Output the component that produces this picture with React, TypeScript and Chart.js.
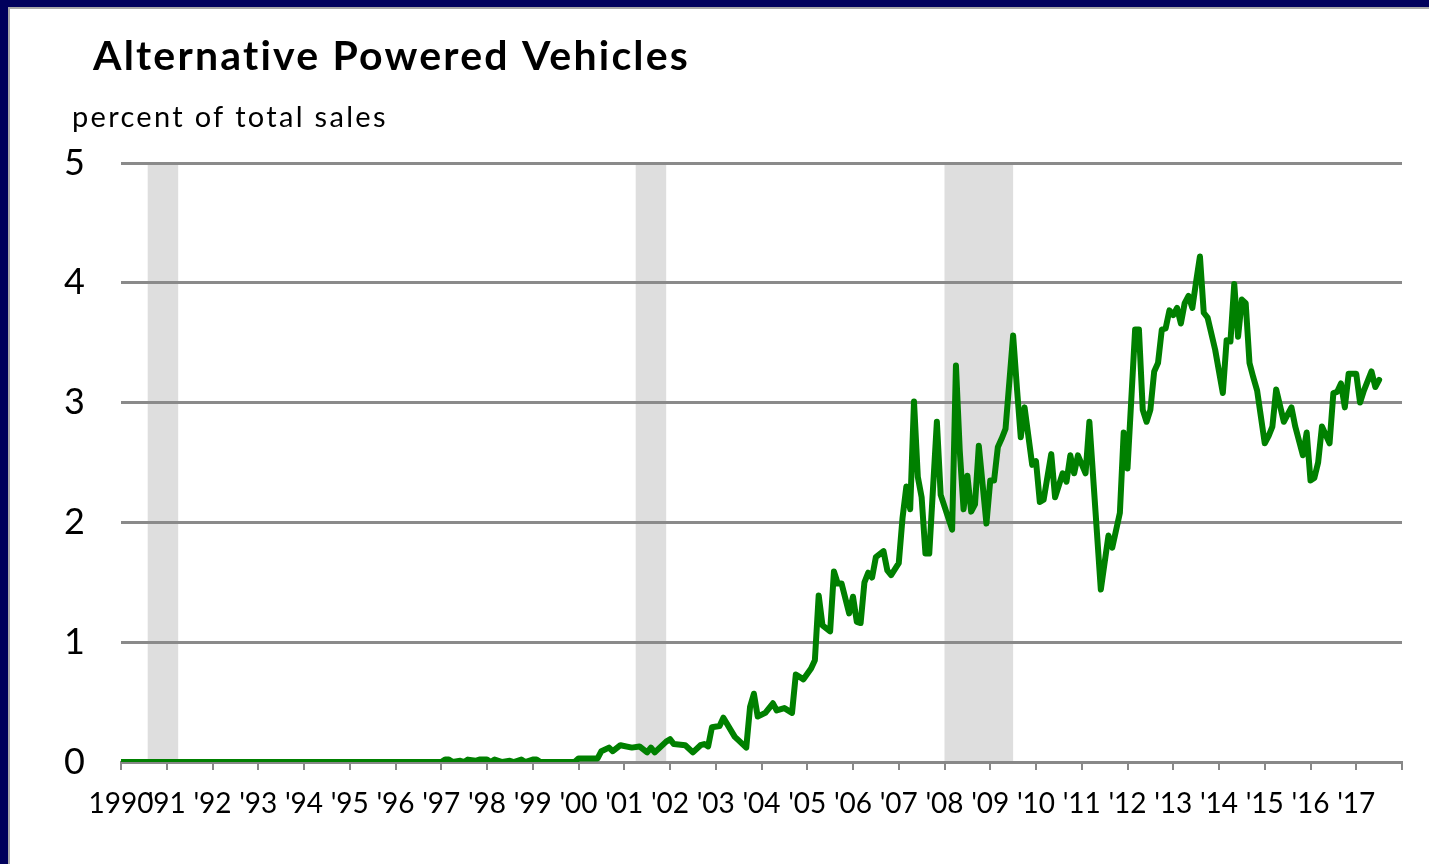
import { useEffect, useRef } from "react";
import { Chart, registerables } from "chart.js";

Chart.register(...registerables);

// Monthly share of alternative powered vehicles in total sales (percent)
const months = [
  "1990-01", "1997-01", "1997-02", "1997-03", "1997-04", "1997-06", "1997-07", "1997-08", "1997-10", "1997-11",
  "1998-01", "1998-02", "1998-03", "1998-05", "1998-07", "1998-08", "1998-10", "1998-11",
  "1999-01", "1999-02", "1999-03", "1999-12",
  "2000-01", "2000-06", "2000-07", "2000-09", "2000-10", "2000-12",
  "2001-03", "2001-05", "2001-07", "2001-08", "2001-09", "2001-12",
  "2002-01", "2002-02", "2002-05", "2002-07", "2002-09", "2002-10", "2002-11", "2002-12",
  "2003-02", "2003-03", "2003-06", "2003-07", "2003-09", "2003-10", "2003-11", "2003-12",
  "2004-02", "2004-04", "2004-05", "2004-07", "2004-09", "2004-10", "2004-12",
  "2005-02", "2005-03", "2005-04", "2005-05", "2005-07", "2005-08", "2005-09", "2005-10", "2005-12",
  "2006-01", "2006-02", "2006-03", "2006-04", "2006-05", "2006-06", "2006-07", "2006-09", "2006-10", "2006-11",
  "2007-01", "2007-02", "2007-03", "2007-04", "2007-05", "2007-06", "2007-07", "2007-08", "2007-09", "2007-11", "2007-12",
  "2008-03", "2008-04", "2008-05", "2008-06", "2008-07", "2008-08", "2008-09", "2008-10", "2008-12",
  "2009-01", "2009-02", "2009-03", "2009-04", "2009-05", "2009-07", "2009-08", "2009-09", "2009-10", "2009-12",
  "2010-01", "2010-02", "2010-03", "2010-05", "2010-06", "2010-08", "2010-09", "2010-10", "2010-11", "2010-12",
  "2011-02", "2011-03", "2011-06", "2011-08", "2011-09", "2011-11", "2011-12",
  "2012-01", "2012-03", "2012-04", "2012-05", "2012-06", "2012-07", "2012-08", "2012-09", "2012-10", "2012-11", "2012-12",
  "2013-01", "2013-02", "2013-03", "2013-04", "2013-05", "2013-06", "2013-07", "2013-08", "2013-09", "2013-10", "2013-12",
  "2014-02", "2014-03", "2014-04", "2014-05", "2014-06", "2014-07", "2014-08", "2014-09", "2014-10", "2014-11",
  "2015-01", "2015-02", "2015-03", "2015-04", "2015-06", "2015-08", "2015-09", "2015-11", "2015-12",
  "2016-01", "2016-02", "2016-03", "2016-04", "2016-06", "2016-07", "2016-08", "2016-09", "2016-10", "2016-11",
  "2017-01", "2017-02", "2017-03", "2017-05", "2017-06", "2017-07",
];

const shares = [
  0, 0, 0.02, 0.02, 0, 0.01, 0, 0.02, 0.01, 0.02,
  0.02, 0, 0.02, 0, 0.01, 0, 0.02, 0,
  0.02, 0.02, 0, 0,
  0.03, 0.03, 0.09, 0.12, 0.09, 0.14,
  0.12, 0.13, 0.08, 0.12, 0.08, 0.17,
  0.19, 0.15, 0.14, 0.08, 0.14, 0.15, 0.13, 0.29,
  0.30, 0.37, 0.21, 0.18, 0.12, 0.46, 0.57, 0.38,
  0.41, 0.49, 0.43, 0.45, 0.41, 0.73, 0.69,
  0.78, 0.85, 1.39, 1.14, 1.09, 1.59, 1.49, 1.49, 1.24,
  1.38, 1.17, 1.16, 1.50, 1.58, 1.54, 1.71, 1.76, 1.60, 1.56,
  1.66, 2.04, 2.30, 2.11, 3.01, 2.38, 2.21, 1.74, 1.74, 2.84, 2.23,
  1.94, 3.31, 2.60, 2.11, 2.39, 2.09, 2.15, 2.64, 1.99,
  2.35, 2.35, 2.63, 2.70, 2.78, 3.56, 3.12, 2.71, 2.96, 2.48,
  2.51, 2.17, 2.19, 2.57, 2.21, 2.41, 2.34, 2.56, 2.41, 2.56,
  2.41, 2.84, 1.44, 1.89, 1.79, 2.08, 2.75,
  2.45, 3.61, 3.61, 2.94, 2.84, 2.94, 3.26, 3.33, 3.61, 3.62, 3.77,
  3.73, 3.79, 3.66, 3.83, 3.89, 3.79, 4.01, 4.22, 3.75, 3.71, 3.44,
  3.08, 3.52, 3.51, 3.99, 3.55, 3.86, 3.83, 3.33, 3.21, 3.10,
  2.66, 2.72, 2.80, 3.11, 2.84, 2.96, 2.80, 2.56, 2.75,
  2.35, 2.37, 2.50, 2.80, 2.66, 3.08, 3.09, 3.16, 2.96, 3.24,
  3.24, 3.00, 3.10, 3.26, 3.13, 3.19,
];

// Recessions (first and last month, inclusive)
const recessionStarts = ["1990-08", "2001-04", "2008-01"];
const recessionEnds = ["1991-03", "2001-11", "2009-06"];

const yearLabels = [
  "1990", "'91", "'92", "'93", "'94", "'95", "'96", "'97", "'98", "'99",
  "'00", "'01", "'02", "'03", "'04", "'05", "'06", "'07", "'08", "'09",
  "'10", "'11", "'12", "'13", "'14", "'15", "'16", "'17",
];

const yMin = 0;
const yMax = 5;

const FIRST_YEAR = 1990;
const monthIndex = (m: string) => {
  const [y, mo] = m.split("-").map(Number);
  return (y - FIRST_YEAR) * 12 + (mo - 1);
};

const FONT = "Lato, 'Open Sans', sans-serif";

const recessionPlugin = {
  id: "recessionShading",
  beforeDraw(chart: any) {
    const { ctx, scales } = chart;
    const x = scales.x;
    const y = scales.y;
    ctx.save();
    ctx.fillStyle = "#ffffff";
    ctx.fillRect(0, 0, chart.width, chart.height);
    ctx.fillStyle = "#dedede";
    const top = y.getPixelForValue(yMax);
    const bottom = y.getPixelForValue(yMin);
    recessionStarts.forEach((s, i) => {
      const x0 = x.getPixelForValue(monthIndex(s));
      const x1 = x.getPixelForValue(monthIndex(recessionEnds[i]) + 1);
      ctx.fillRect(x0, top, x1 - x0, bottom - top);
    });
    ctx.restore();
  },
};

const headingPlugin = {
  id: "headings",
  afterDraw(chart: any) {
    const { ctx } = chart;
    ctx.save();
    ctx.fillStyle = "#000000";
    ctx.textBaseline = "alphabetic";
    ctx.textAlign = "left";
    ctx.font = `bold 41px ${FONT}`;
    (ctx as any).letterSpacing = "2.2px";
    ctx.fillText("Alternative Powered Vehicles", 93, 70);
    ctx.font = `29px ${FONT}`;
    (ctx as any).letterSpacing = "2.3px";
    ctx.fillText("percent of total sales", 72, 127);
    ctx.restore();
  },
};

export default function App() {
  const canvasRef = useRef<HTMLCanvasElement | null>(null);

  useEffect(() => {
    document.body.style.margin = "0";
    const canvas = canvasRef.current;
    if (!canvas) return;
    const points = months.map((m, i) => ({ x: monthIndex(m), y: shares[i] }));
    const lastTick = yearLabels.length * 12;

    const chart = new Chart(canvas, {
      type: "line",
      data: {
        datasets: [
          {
            data: points,
            borderColor: "#008000",
            borderWidth: 6,
            pointRadius: 0,
            tension: 0,
            borderJoinStyle: "round",
            borderCapStyle: "round",
            fill: false,
          },
        ],
      },
      options: {
        responsive: false,
        animation: false,
        devicePixelRatio: 1,
        layout: { padding: { left: 0, top: 163, right: 27, bottom: 0 } },
        plugins: {
          legend: { display: false },
          title: { display: false },
          tooltip: { enabled: false },
        },
        scales: {
          x: {
            type: "linear",
            min: 0,
            max: lastTick,
            afterFit: (scale: any) => {
              scale.height = 102;
            },
            afterBuildTicks: (scale: any) => {
              const ticks = [];
              for (let v = 0; v <= lastTick; v += 12) ticks.push({ value: v });
              scale.ticks = ticks;
            },
            grid: {
              drawOnChartArea: false,
              drawTicks: true,
              tickLength: 8,
              color: "#888888",
              lineWidth: 2,
            },
            border: { display: true, color: "#888888", width: 3 },
            ticks: {
              autoSkip: false,
              maxRotation: 0,
              padding: 17,
              color: "#000000",
              font: { family: FONT, size: 28 },
              callback: (value: any) => {
                const i = Math.round(Number(value) / 12);
                return yearLabels[i] ?? "";
              },
            },
          },
          y: {
            min: yMin,
            max: yMax,
            afterFit: (scale: any) => {
              scale.width = 121;
            },
            grid: {
              drawTicks: false,
              color: "#8a8a8a",
              lineWidth: 3,
            },
            border: { display: false },
            ticks: {
              stepSize: 1,
              padding: 36,
              color: "#000000",
              font: { family: FONT, size: 36 },
            },
          },
        },
      },
      plugins: [recessionPlugin, headingPlugin],
    } as any);

    return () => chart.destroy();
  }, []);

  return (
    <div style={{ position: "fixed", left: 0, top: 0, width: 1429, height: 864, background: "#ffffff", overflow: "hidden" }}>
      <canvas ref={canvasRef} width={1429} height={864} style={{ position: "absolute", left: 0, top: 0 }} />
      <div style={{ position: "absolute", left: 0, top: 0, width: 1429, height: 7, background: "#00005c" }} />
      <div style={{ position: "absolute", left: 8, top: 7, width: 1421, height: 2, background: "#a8a8a8" }} />
      <div style={{ position: "absolute", left: 0, top: 0, width: 8, height: 864, background: "#00005c" }} />
      <div style={{ position: "absolute", left: 8, top: 7, width: 2, height: 857, background: "#a8a8a8" }} />
    </div>
  );
}
